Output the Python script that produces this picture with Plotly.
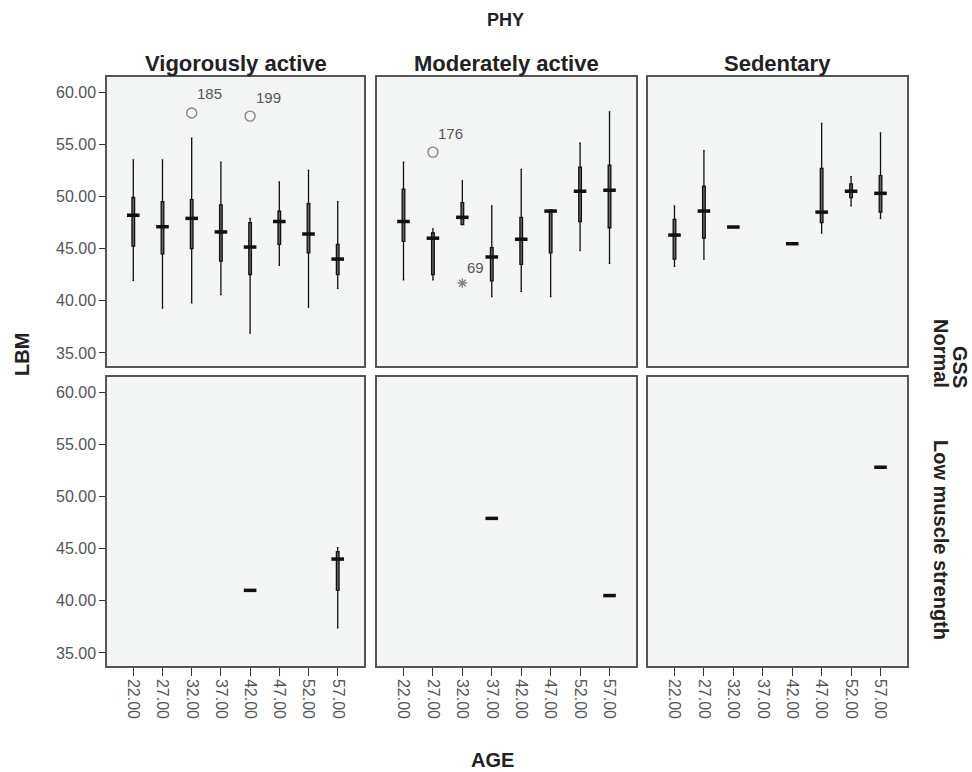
import plotly.graph_objects as go

# ---------------- data ----------------
ages = [22, 27, 32, 37, 42, 47, 52, 57]
age_labels = ["22.00", "27.00", "32.00", "37.00", "42.00", "47.00", "52.00", "57.00"]
phy_groups = ["Vigorously active", "Moderately active", "Sedentary"]
gss_groups = ["Normal", "Low muscle strength"]
y_ticks = [35, 40, 45, 50, 55, 60]

# Normal GSS
vig_norm_low = [41.96, 39.3, 39.8, 40.6, 36.9, 43.4, 39.4, 41.2]
vig_norm_q1 = [45.25, 44.5, 45.0, 43.8, 42.5, 45.4, 44.6, 42.5]
vig_norm_med = [48.2, 47.1, 47.9, 46.6, 45.15, 47.6, 46.4, 44.0]
vig_norm_q3 = [49.9, 49.5, 49.7, 49.2, 47.5, 48.6, 49.3, 45.4]
vig_norm_up = [53.5, 53.5, 55.6, 53.3, 47.9, 51.4, 52.5, 49.5]

mod_norm_low = [42.0, 42.0, 47.3, 40.4, 40.9, 40.4, 44.8, 43.6]
mod_norm_q1 = [45.7, 42.5, 47.3, 41.9, 43.5, 44.6, 47.6, 47.0]
mod_norm_med = [47.6, 46.0, 48.0, 44.2, 45.9, 48.6, 50.5, 50.6]
mod_norm_q3 = [50.7, 46.5, 49.4, 45.1, 48.0, 48.7, 52.8, 53.0]
mod_norm_up = [53.3, 46.9, 51.5, 49.1, 52.6, 48.7, 55.1, 58.1]

sed_norm_low = [43.3, 44.0, 47.07, None, 45.47, 46.5, 49.1, 47.9]
sed_norm_q1 = [44.0, 46.0, 47.07, None, 45.47, 47.5, 49.9, 48.5]
sed_norm_med = [46.3, 48.6, 47.07, None, 45.47, 48.5, 50.5, 50.3]
sed_norm_q3 = [47.8, 51.0, 47.07, None, 45.47, 52.7, 51.2, 52.0]
sed_norm_up = [49.1, 54.4, 47.07, None, 45.47, 57.0, 51.9, 56.1]

# Low muscle strength GSS
vig_low_low = [None, None, None, None, 41.0, None, None, 37.4]
vig_low_q1 = [None, None, None, None, 41.0, None, None, 41.0]
vig_low_med = [None, None, None, None, 41.0, None, None, 44.0]
vig_low_q3 = [None, None, None, None, 41.0, None, None, 44.7]
vig_low_up = [None, None, None, None, 41.0, None, None, 45.1]

mod_low_low = [None, None, None, 47.9, None, None, None, 40.5]
mod_low_q1 = [None, None, None, 47.9, None, None, None, 40.5]
mod_low_med = [None, None, None, 47.9, None, None, None, 40.5]
mod_low_q3 = [None, None, None, 47.9, None, None, None, 40.5]
mod_low_up = [None, None, None, 47.9, None, None, None, 40.5]

sed_low_low = [None, None, None, None, None, None, None, 52.8]
sed_low_q1 = [None, None, None, None, None, None, None, 52.8]
sed_low_med = [None, None, None, None, None, None, None, 52.8]
sed_low_q3 = [None, None, None, None, None, None, None, 52.8]
sed_low_up = [None, None, None, None, None, None, None, 52.8]

# outliers: (panel row, panel col, age, value, case label, symbol)
out_row = [0, 0, 0, 0]
out_col = [0, 0, 1, 1]
out_age = [32, 42, 27, 32]
out_val = [58.0, 57.7, 54.25, 41.7]
out_lab = ["185", "199", "176", "69"]
out_sym = ["circle-open", "circle-open", "circle-open", "asterisk-open"]

panels = {
    (0, 0): (vig_norm_low, vig_norm_q1, vig_norm_med, vig_norm_q3, vig_norm_up),
    (0, 1): (mod_norm_low, mod_norm_q1, mod_norm_med, mod_norm_q3, mod_norm_up),
    (0, 2): (sed_norm_low, sed_norm_q1, sed_norm_med, sed_norm_q3, sed_norm_up),
    (1, 0): (vig_low_low, vig_low_q1, vig_low_med, vig_low_q3, vig_low_up),
    (1, 1): (mod_low_low, mod_low_q1, mod_low_med, mod_low_q3, mod_low_up),
    (1, 2): (sed_low_low, sed_low_q1, sed_low_med, sed_low_q3, sed_low_up),
}

# ---------------- layout geometry (pixels) ----------------
W, H = 972, 772
col_px = [(107, 364), (377, 636), (648, 907)]
row_px = [(77, 366), (377, 666)]

fig = go.Figure()
FONT = "Arial, Liberation Sans, sans-serif"
layout = dict(
    width=W, height=H,
    margin=dict(l=0, r=0, t=0, b=0),
    paper_bgcolor="white",
    plot_bgcolor="#f4f5f5",
    showlegend=False,
    font=dict(family=FONT, color="#222"),
)

annotations = []
for r in range(2):
    for c in range(3):
        idx = r * 3 + c + 1
        sfx = "" if idx == 1 else str(idx)
        xa, ya = "x" + sfx, "y" + sfx
        x0, x1 = col_px[c]
        y0, y1 = row_px[r]
        layout["xaxis" + sfx] = dict(
            domain=[x0 / W, x1 / W], anchor=ya, range=[17.5, 61.5],
            showgrid=False, zeroline=False, showline=True, mirror=True,
            linecolor="#555", linewidth=1.5,
            tickvals=ages, ticktext=age_labels,
            ticks="outside" if r == 1 else "", ticklen=8, tickcolor="#333",
            showticklabels=(r == 1), tickangle=90,
            tickfont=dict(size=16, color="#555", family=FONT),
        )
        layout["yaxis" + sfx] = dict(
            domain=[1 - y1 / H, 1 - y0 / H], anchor=xa, range=[33.75, 61.45],
            showgrid=False, zeroline=False, showline=True, mirror=True,
            linecolor="#555", linewidth=1.5,
            tickvals=y_ticks, tickformat=".2f",
            ticks="outside" if c == 0 else "", ticklen=6, tickcolor="#333",
            showticklabels=(c == 0),
            tickfont=dict(size=16, color="#555", family=FONT),
        )
        lo, q1, md, q3, up = panels[(r, c)]
        keep = [i for i in range(len(ages)) if md[i] is not None]
        xs = [ages[i] for i in keep]
        fig.add_trace(go.Box(
            x=xs,
            lowerfence=[lo[i] for i in keep], q1=[q1[i] for i in keep],
            median=[md[i] for i in keep], q3=[q3[i] for i in keep],
            upperfence=[up[i] for i in keep],
            width=0.45, whiskerwidth=0.6, boxpoints=False,
            fillcolor="#666666", line=dict(color="#111111", width=1.3),
            xaxis=xa, yaxis=ya, hoverinfo="skip",
        ))
        fig.add_trace(go.Scatter(
            x=xs, y=[md[i] for i in keep], mode="markers",
            marker=dict(symbol="line-ew", size=9, line=dict(width=3.5, color="#111")),
            xaxis=xa, yaxis=ya, hoverinfo="skip",
        ))
        # outliers for this panel
        oi = [k for k in range(len(out_val)) if out_row[k] == r and out_col[k] == c]
        if oi:
            fig.add_trace(go.Scatter(
                x=[out_age[k] for k in oi], y=[out_val[k] for k in oi], mode="markers",
                marker=dict(symbol=[out_sym[k] for k in oi],
                            size=[8 if out_sym[k].startswith("asterisk") else 10 for k in oi],
                            color="#555", line=dict(width=1.4, color="#555")),
                xaxis=xa, yaxis=ya, hoverinfo="skip",
            ))
            for k in oi:
                star = out_sym[k].startswith("asterisk")
                annotations.append(dict(
                    x=out_age[k], y=out_val[k], xref=xa, yref=ya,
                    text=out_lab[k], showarrow=False,
                    xanchor="center", yanchor="middle",
                    xshift=13 if star else 18, yshift=16 if star else 19,
                    font=dict(size=15, color="#555", family=FONT),
                ))

# column titles
for c, name in enumerate(phy_groups):
    x0, x1 = col_px[c]
    annotations.append(dict(
        x=(x0 + x1) / 2 / W, y=1 - 64 / H, xref="paper", yref="paper",
        xanchor="center", yanchor="middle",
        text="<b>" + name + "</b>", showarrow=False,
        font=dict(size=22, color="#222", family=FONT),
    ))
common = dict(xref="paper", yref="paper", showarrow=False, xanchor="center", yanchor="middle")
annotations += [
    dict(x=505 / W, y=1 - 20 / H, text="<b>PHY</b>",
         font=dict(size=18, color="#222", family=FONT), **common),
    dict(x=22 / W, y=1 - 355 / H, text="<b>LBM</b>", textangle=-90,
         font=dict(size=20, color="#222", family=FONT), **common),
    dict(x=492 / W, y=1 - 760 / H, text="<b>AGE</b>",
         font=dict(size=20, color="#222", family=FONT), **common),
    dict(x=941 / W, y=1 - 353 / H, text="<b>" + gss_groups[0] + "</b>", textangle=90,
         font=dict(size=20, color="#222", family=FONT), **common),
    dict(x=960 / W, y=1 - 367 / H, text="<b>GSS</b>", textangle=90,
         font=dict(size=20, color="#222", family=FONT), **common),
    dict(x=941 / W, y=1 - 540 / H, text="<b>" + gss_groups[1] + "</b>", textangle=90,
         font=dict(size=20, color="#222", family=FONT), **common),
]
layout["annotations"] = annotations
fig.update_layout(**layout)
fig.write_html("out.html", config={"displayModeBar": False},
               post_script="document.body.style.margin='0';")
